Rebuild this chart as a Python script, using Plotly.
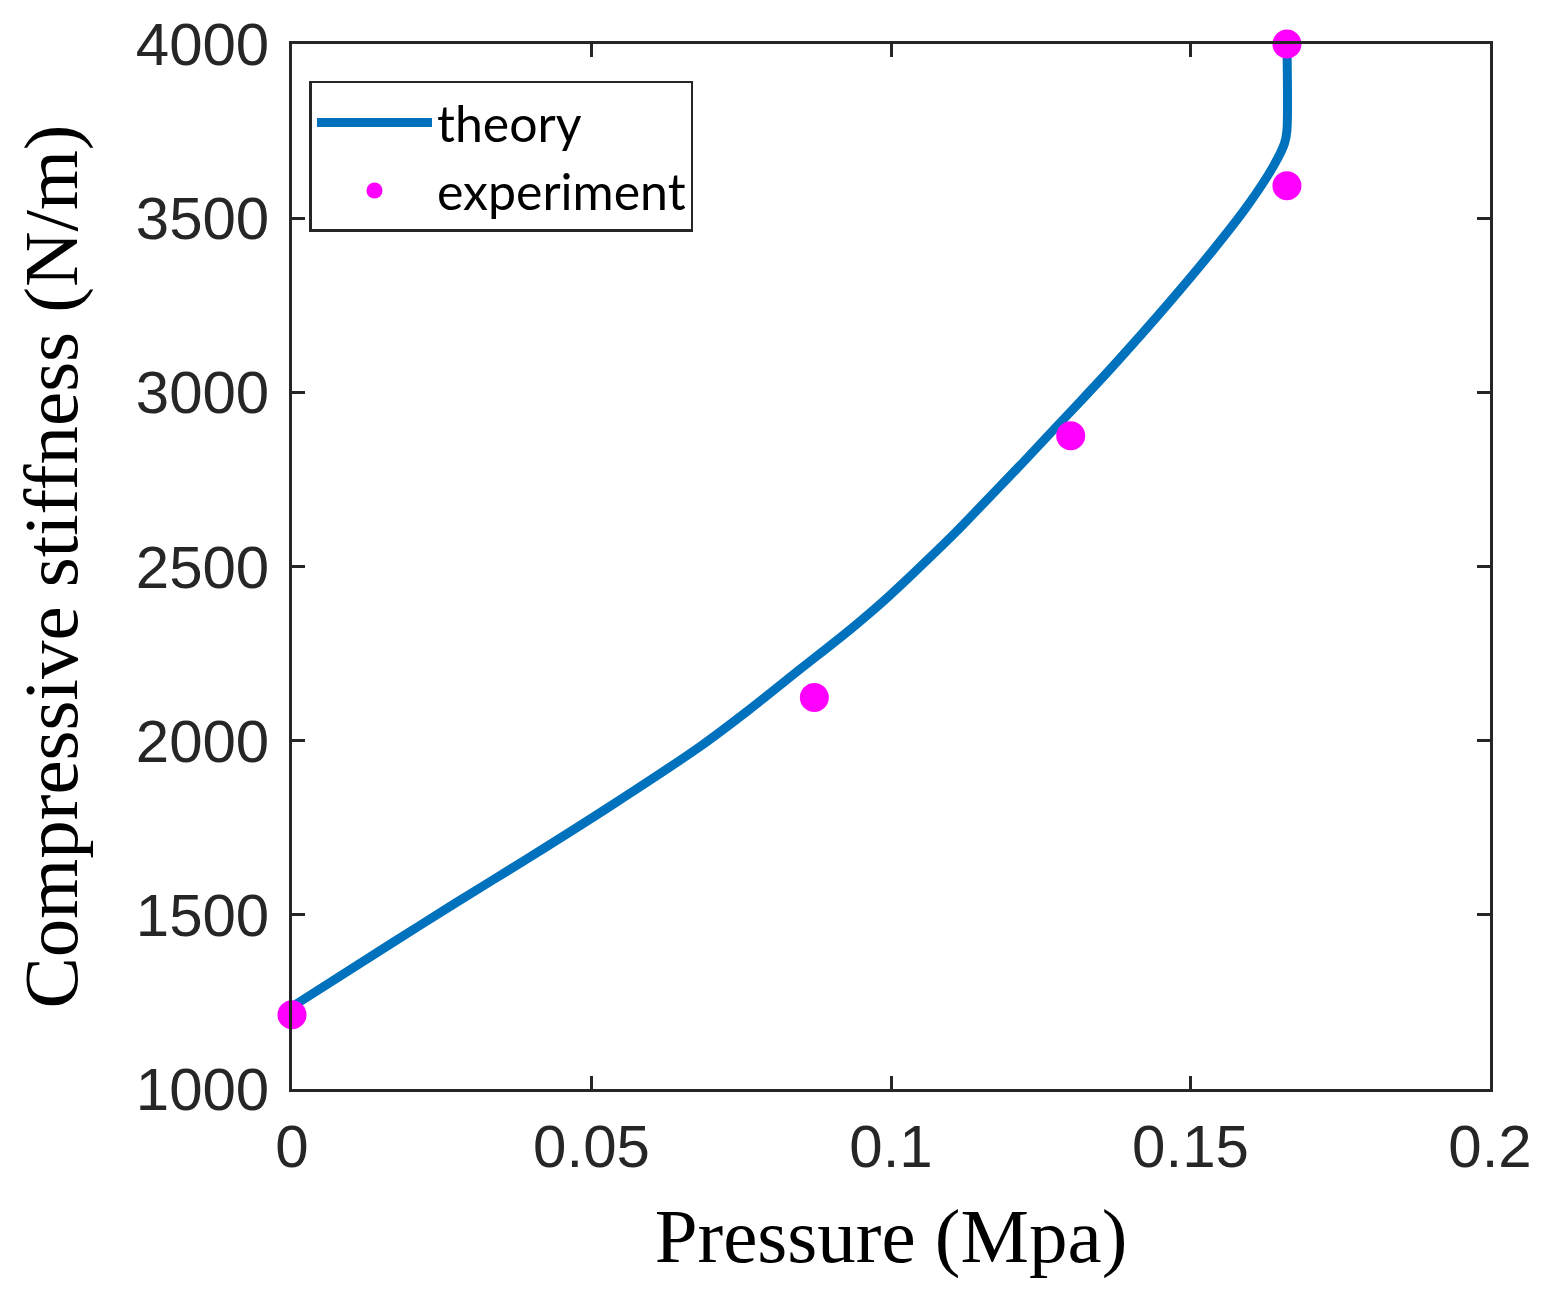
import plotly.graph_objects as go

# theory curve
theory_x = [0, 0.0166, 0.0272, 0.0389, 0.0534, 0.0681, 0.0764, 0.0848, 0.0931,
            0.0987, 0.1037, 0.1109, 0.1165, 0.1221, 0.1271, 0.1315, 0.1371,
            0.1454, 0.1538, 0.1594, 0.1638, 0.1657, 0.1661, 0.1661]
theory_y = [1236, 1418, 1533, 1657, 1815, 1983, 2090, 2205, 2318,
            2400, 2480, 2600, 2700, 2800, 2892, 2972, 3076,
            3237, 3409, 3533, 3648, 3715, 3753, 4000]

# experiment points
exp_x = [0, 0.0872, 0.1300, 0.1661, 0.1661]
exp_y = [1213, 2124, 2875, 3593, 4000]

x_ticks = [0, 0.05, 0.1, 0.15, 0.2]
x_tick_text = ["0", "0.05", "0.1", "0.15", "0.2"]
y_ticks = [1000, 1500, 2000, 2500, 3000, 3500, 4000]
y_tick_text = ["1000", "1500", "2000", "2500", "3000", "3500", "4000"]

fig = go.Figure()

fig.add_trace(
    go.Scatter(
        x=theory_x,
        y=theory_y,
        mode="lines",
        name="theory",
        line=dict(color="#0072BD", width=9, shape="spline", smoothing=0.8),
    )
)
fig.add_trace(
    go.Scatter(
        x=exp_x,
        y=exp_y,
        mode="markers",
        name="experiment",
        marker=dict(color="#FF00FF", size=29),
        cliponaxis=False,
    )
)

axis_style = dict(
    showline=True,
    linecolor="#262626",
    linewidth=2.5,
    mirror="ticks",
    ticks="inside",
    ticklen=13,
    tickwidth=2.5,
    tickcolor="#262626",
    showgrid=False,
    zeroline=False,
    automargin=False,
    ticklabeloverflow="allow",
    tickfont=dict(family="Liberation Sans", size=60, color="#262626"),
)

fig.update_xaxes(
    range=[0, 0.2],
    tickvals=x_ticks,
    ticktext=x_tick_text,
    ticklabelstandoff=3,
    title=dict(
        text="Pressure (Mpa)",
        font=dict(family="Liberation Serif", size=77, color="black"),
        standoff=30,
    ),
    **axis_style,
)
fig.update_yaxes(
    range=[1000, 4000],
    tickvals=y_ticks,
    ticktext=y_tick_text,
    ticklabelstandoff=8,
    title=dict(
        text="Compressive stiffness (N/m)",
        font=dict(family="Liberation Serif", size=77, color="black"),
        standoff=40,
    ),
    **axis_style,
)

fig.update_layout(
    width=1530,
    height=1279,
    autosize=False,
    margin=dict(l=284, r=48, t=36, b=198),
    plot_bgcolor="white",
    paper_bgcolor="white",
    showlegend=True,
    legend=dict(
        x=0.0146,
        y=0.9646,
        xanchor="left",
        yanchor="top",
        bgcolor="white",
        bordercolor="#262626",
        borderwidth=2.5,
        font=dict(family="Lato", size=50, color="black"),
        itemwidth=115,
    ),
)

fig.write_html("out.html")
